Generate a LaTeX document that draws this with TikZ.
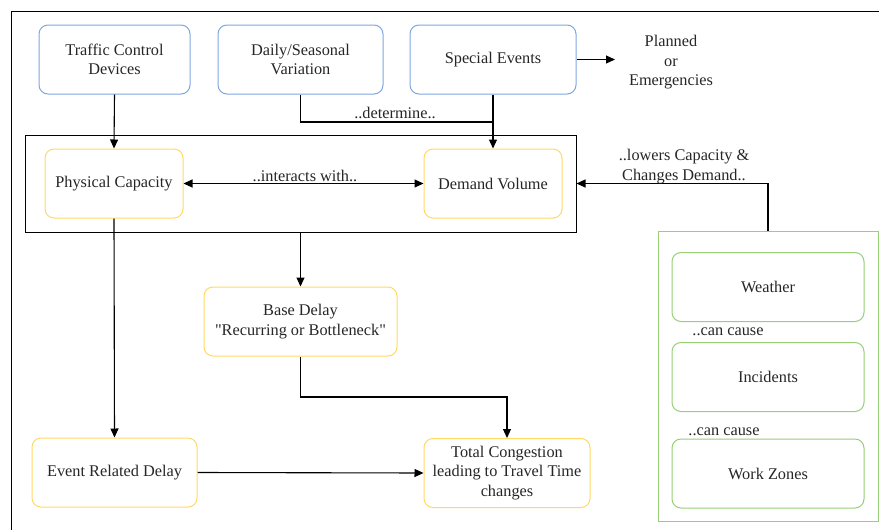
\documentclass[tikz,border=0pt]{standalone}
\usepackage{fontspec}
\setmainfont{Liberation Serif}[Ligatures=TeXOff]
\usetikzlibrary{arrows.meta,positioning}
\definecolor{boxblue}{HTML}{7EA6E0}
\definecolor{boxyellow}{HTML}{FFD966}
\definecolor{boxgreen}{HTML}{97D077}
\tikzset{
  every node/.style={font=\rmfamily\fontsize{16.3}{19.5}\selectfont, align=center, text=black!85},
  rbox/.style={draw, rounded corners=9pt, line width=1pt, inner sep=0pt},
  bluebox/.style={rbox, draw=boxblue},
  yellowbox/.style={rbox, draw=boxyellow},
  greenbox/.style={rbox, draw=boxgreen},
  conn/.style={line width=1.1pt, -{Triangle[length=9pt,width=8pt]}},
  lbl/.style={inner sep=1pt}
}
\begin{document}
\begin{tikzpicture}[x=1pt,y=-1pt]
\useasboundingbox (0,0) rectangle (879,530);
% page frame
\draw[line width=1pt] (11,540) -- (11,11) -- (890,11);

% top row of causes
\node[bluebox, minimum width=151pt, minimum height=69pt] (tcd) at (114.5,59.5) {Traffic Control\\Devices};
\node[bluebox, minimum width=165pt, minimum height=69pt] (dsv) at (300.5,59.5) {Daily/Seasonal\\Variation};
\node[bluebox, minimum width=166pt, minimum height=69pt] (spe) at (493,59.5) {Special Events};
\node (pe) at (671,62.5) {Planned\\or\\Emergencies};

% capacity / demand group
\node[draw, line width=1pt, minimum width=551pt, minimum height=97pt, inner sep=0pt] (grp) at (300.5,183.5) {};
\node[yellowbox, minimum width=138pt, minimum height=69pt] (cap) at (114,183.5) {Physical Capacity};
\node[yellowbox, minimum width=138pt, minimum height=69pt] (dem) at (493,183.5) {Demand Volume};

% delays
\node[yellowbox, minimum width=193pt, minimum height=69pt] (base) at (300.5,321.5) {Base Delay\\"Recurring or Bottleneck"};
\node[yellowbox, minimum width=165pt, minimum height=69pt] (evt) at (114.5,472.5) {Event Related Delay};
\node[yellowbox, minimum width=166pt, minimum height=69pt] (tot) at (507,473) {Total Congestion\\leading to Travel Time\\changes};

% non-recurring factors
\node[draw=boxgreen, line width=1pt, minimum width=220pt, minimum height=290pt, inner sep=0pt] (nrc) at (768,376) {};
\node[greenbox, minimum width=192pt, minimum height=69pt] (wea) at (768,287) {Weather};
\node[greenbox, minimum width=192pt, minimum height=69pt] (inc) at (768,377) {Incidents};
\node[greenbox, minimum width=192pt, minimum height=69pt] (wz) at (768,473.5) {Work Zones};
\node[lbl] (cc1) at (728,331.5) {..can cause};
\node[lbl] (cc2) at (724,431.5) {..can cause};

% connectors
\draw[conn] (spe.east) -- (615,59.5) coordinate (pe-in);
\draw[conn] (tcd.south) -- (cap.north);
\draw[conn] (spe.south) -- (dem.north);
\draw[line width=1.1pt] (dsv.south) |- (493,122) coordinate (join);
\node[lbl] (det) at (395,113) {..determine..};
\draw[conn, {Triangle[length=9pt,width=8pt]}-{Triangle[length=9pt,width=8pt]}] (cap.east) -- (dem.west);
\node[lbl] (inter) at (305,175.5) {..interacts with..};
\draw[conn] (grp.south) -- (base.north);
\draw[conn] (base.south) -- (300.5,397) -| (tot.north);
\draw[conn] (cap.south) -- (evt.north);
\draw[conn] (evt.east) -- (tot.west);
\draw[conn] (nrc.north) |- (grp.east);
\node[lbl] (low) at (684,166.5) {..lowers Capacity \&\\Changes Demand..};
\end{tikzpicture}
\end{document}
